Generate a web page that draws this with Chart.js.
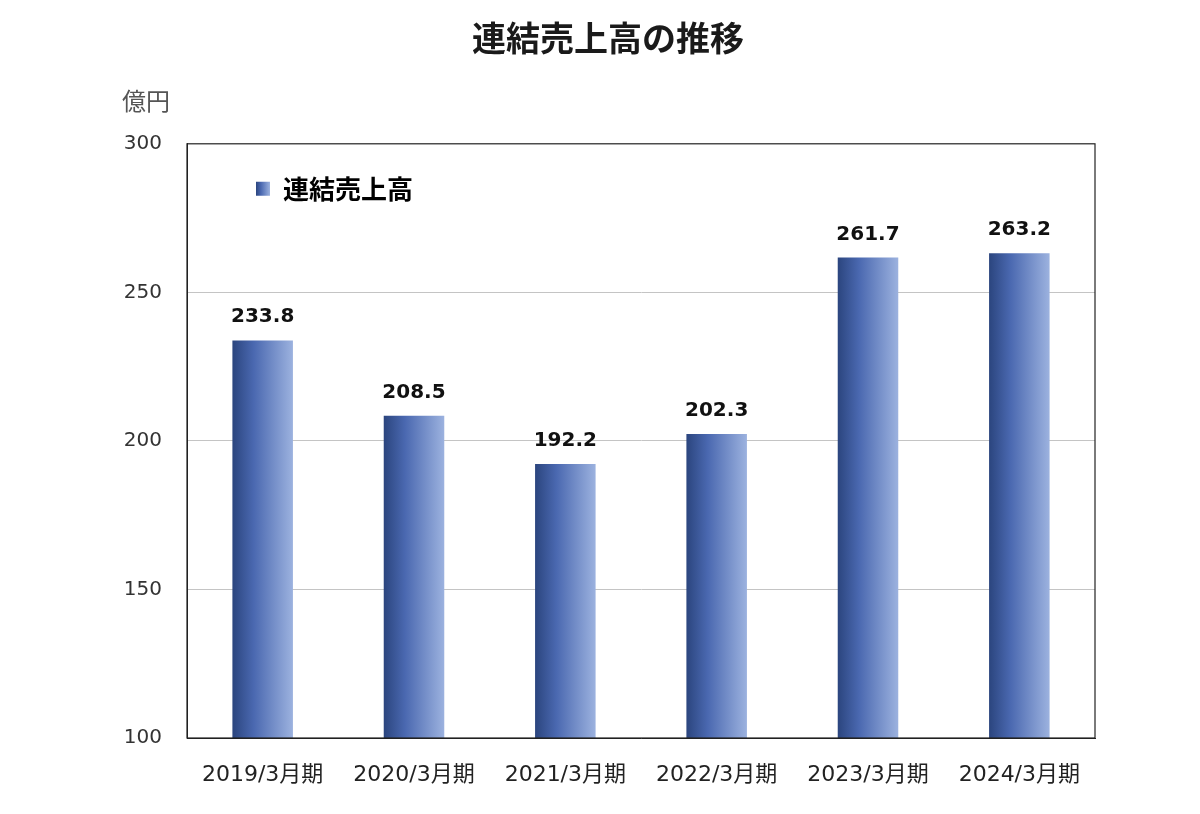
<!DOCTYPE html>
<html lang="ja">
<head>
  <meta charset="UTF-8" />
  <title>連結売上高の推移</title>
  <script src="https://cdn.jsdelivr.net/npm/chart.js"></script>
  <style>
    body { margin: 0; background: #fff; }
    .wrap { width: 1200px; height: 814px; position: relative; }
  </style>
</head>
<body>
  <div class="wrap"><canvas id="salesChart"></canvas></div>
  <script>
    // データ
    const periods = ['2019/3月期', '2020/3月期', '2021/3月期', '2022/3月期', '2023/3月期', '2024/3月期'];
    const sales = [233.8, 208.5, 192.2, 202.3, 261.7, 263.2];
    const yTicks = [100, 150, 200, 250, 300];
    const seriesName = '連結売上高';
    const unitLabel = '億円';

    const numFont = "'DejaVu Sans', 'Noto Sans CJK JP', sans-serif";
    const jpFont = "'Noto Sans CJK JP', sans-serif";

    function barGradient(ctx, x0, x1) {
      const g = ctx.createLinearGradient(x0, 0, x1, 0);
      g.addColorStop(0, '#2b457e');
      g.addColorStop(0.35, '#4a68b0');
      g.addColorStop(1, '#9cb2df');
      return g;
    }

    // 凡例の位置、枠線、単位、数値ラベル
    const extras = {
      id: 'extras',
      afterLayout(chart) {
        const lg = chart.legend;
        const p = lg.options.labels.padding;
        lg.left = chart.chartArea.left + 69 - p;
        lg.top = chart.chartArea.top + 45 - 13 - p;
      },
      afterDatasetsDraw(chart) {
        const { ctx, chartArea } = chart;
        ctx.save();
        ctx.strokeStyle = '#222';
        ctx.lineWidth = 1.2;
        ctx.strokeRect(chartArea.left, chartArea.top, chartArea.right - chartArea.left, chartArea.bottom - chartArea.top);

        ctx.fillStyle = '#111';
        ctx.font = 'bold 20px ' + numFont;
        ctx.textAlign = 'center';
        ctx.textBaseline = 'alphabetic';
        chart.getDatasetMeta(0).data.forEach((bar, i) => {
          ctx.fillText(sales[i].toFixed(1), bar.x, bar.y - 18);
        });

        ctx.fillStyle = '#555';
        ctx.font = '24px ' + jpFont;
        ctx.textAlign = 'left';
        ctx.textBaseline = 'middle';
        ctx.fillText(unitLabel, 122, 101);
        ctx.restore();
      }
    };

    const chart = new Chart(document.getElementById('salesChart'), {
      type: 'bar',
      data: {
        labels: periods,
        datasets: [{
          label: seriesName,
          data: sales,
          categoryPercentage: 1,
          barPercentage: 0.4,
          borderWidth: 0,
          backgroundColor(c) {
            const ch = c.chart;
            const { chartArea, scales } = ch;
            if (!chartArea || c.type !== 'data') return '#4a68b0';
            const x = scales.x.getPixelForValue(c.dataIndex);
            const half = (scales.x.width / periods.length) * 0.4 / 2;
            return barGradient(ch.ctx, x - half, x + half);
          }
        }]
      },
      options: {
        responsive: true,
        maintainAspectRatio: false,
        animation: false,
        layout: { padding: { left: 121, right: 105, top: 0, bottom: 0 } },
        plugins: {
          title: {
            display: true,
            text: '連結売上高の推移',
            color: '#1a1a1a',
            font: { family: jpFont, size: 34, weight: 'bold' },
            padding: { top: 18, bottom: 85 }
          },
          legend: {
            display: true,
            position: 'chartArea',
            align: 'start',
            labels: {
              padding: 10,
              boxWidth: 14,
              boxHeight: 14,
              color: '#1a1a1a',
              font: { family: jpFont, size: 26, weight: 'bold' },
              generateLabels(chart) {
                const x0 = chart.chartArea ? chart.chartArea.left + 69 : 256;
                return [{
                  text: seriesName,
                  fillStyle: barGradient(chart.ctx, x0, x0 + 14),
                  strokeStyle: 'rgba(0,0,0,0)',
                  lineWidth: 0,
                  hidden: false,
                  datasetIndex: 0
                }];
              }
            }
          },
          tooltip: { enabled: false }
        },
        scales: {
          x: {
            grid: { display: false, drawTicks: false },
            border: { display: true, color: '#222' },
            ticks: {
              color: '#222',
              font: { family: numFont, size: 22 },
              padding: 24,
              maxRotation: 0,
              autoSkip: false
            },
            afterFit(scale) { scale.height = 76; }
          },
          y: {
            min: 100,
            max: 300,
            grid: {
              drawTicks: false,
              lineWidth: 1,
              color: (c) => (c.tick && (c.tick.value === 100 || c.tick.value === 300)) ? 'rgba(0,0,0,0)' : '#c4c4c4'
            },
            border: { display: true, color: '#222' },
            afterBuildTicks(scale) { scale.ticks = yTicks.map(v => ({ value: v })); },
            ticks: {
              color: '#333',
              font: { family: numFont, size: 20 },
              padding: 25
            },
            afterFit(scale) { scale.width = 66; }
          }
        }
      },
      plugins: [extras]
    });
  </script>
</body>
</html>
